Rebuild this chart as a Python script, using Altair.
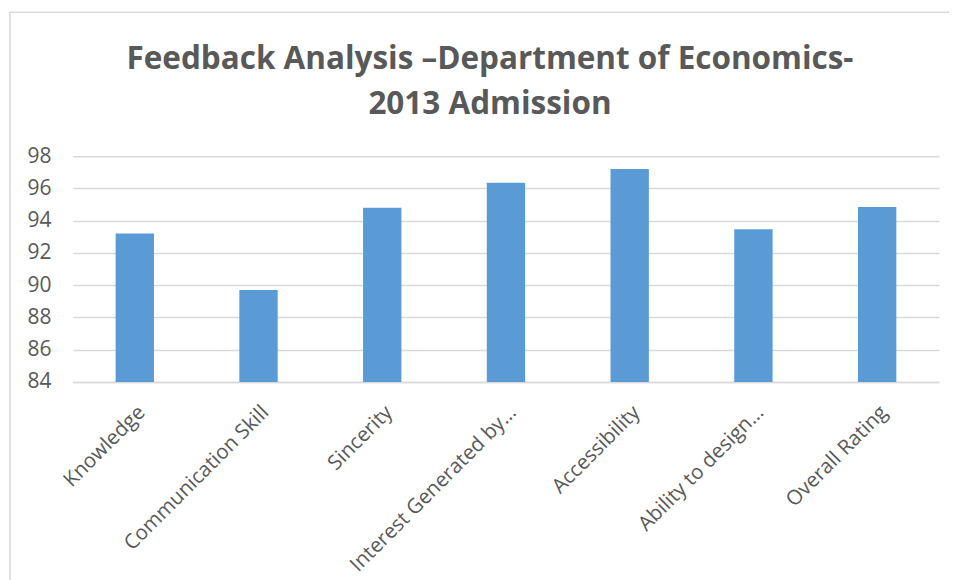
import altair as alt
import pandas as pd

categories = ["Knowledge", "Communication Skill", "Sincerity", "Interest Generated by…",
              "Accessibility", "Ability to design…", "Overall Rating"]
values = [93.2, 89.7, 94.8, 96.35, 97.2, 93.47, 94.85]

df = pd.DataFrame({"category": categories, "value": values})
frame_df = pd.DataFrame({"k": [0]})

GRAY = "#595959"
FONT = "Open Sans"

frame = alt.Chart(frame_df).mark_rect(filled=False, stroke="#d9d9d9", strokeWidth=1.5).encode(
    x=alt.value(-63), x2=alt.value(900), y=alt.value(-144), y2=alt.value(440)
)

bars = alt.Chart(df).mark_bar(color="#5B9BD5", clip=True).encode(
    x=alt.X("category:N", sort=categories, title=None,
            scale=alt.Scale(paddingInner=0.69, paddingOuter=0.345),
            axis=alt.Axis(labelAngle=-45, labelFont=FONT, labelFontSize=20.5, labelColor=GRAY,
                          labelPadding=20, ticks=False, domainColor="#d9d9d9", domainWidth=1.5,
                          labelLimit=400)),
    y=alt.Y("value:Q", title=None,
            scale=alt.Scale(domain=[84, 98], nice=False, zero=False),
            axis=alt.Axis(values=list(range(84, 99, 2)), labelFont=FONT, labelFontSize=21,
                          labelColor=GRAY, labelPadding=22, ticks=False, domain=False,
                          gridColor="#d9d9d9", gridWidth=1.5)),
)

chart = alt.layer(frame, bars).properties(
    width=867, height=226,
    padding={"left": 65, "top": 148, "right": 10, "bottom": 200},
    autosize=alt.AutoSizeParams(type="none"),
    title=alt.Title(["Feedback Analysis –Department of Economics-", "2013 Admission"],
                    font=FONT, fontSize=31.5, fontWeight="bold", color=GRAY,
                    anchor="middle", dx=-16, lineHeight=45, offset=-109),
).configure_view(stroke=None)

chart.save("out.html", embed_options={"renderer": "svg", "actions": False})
